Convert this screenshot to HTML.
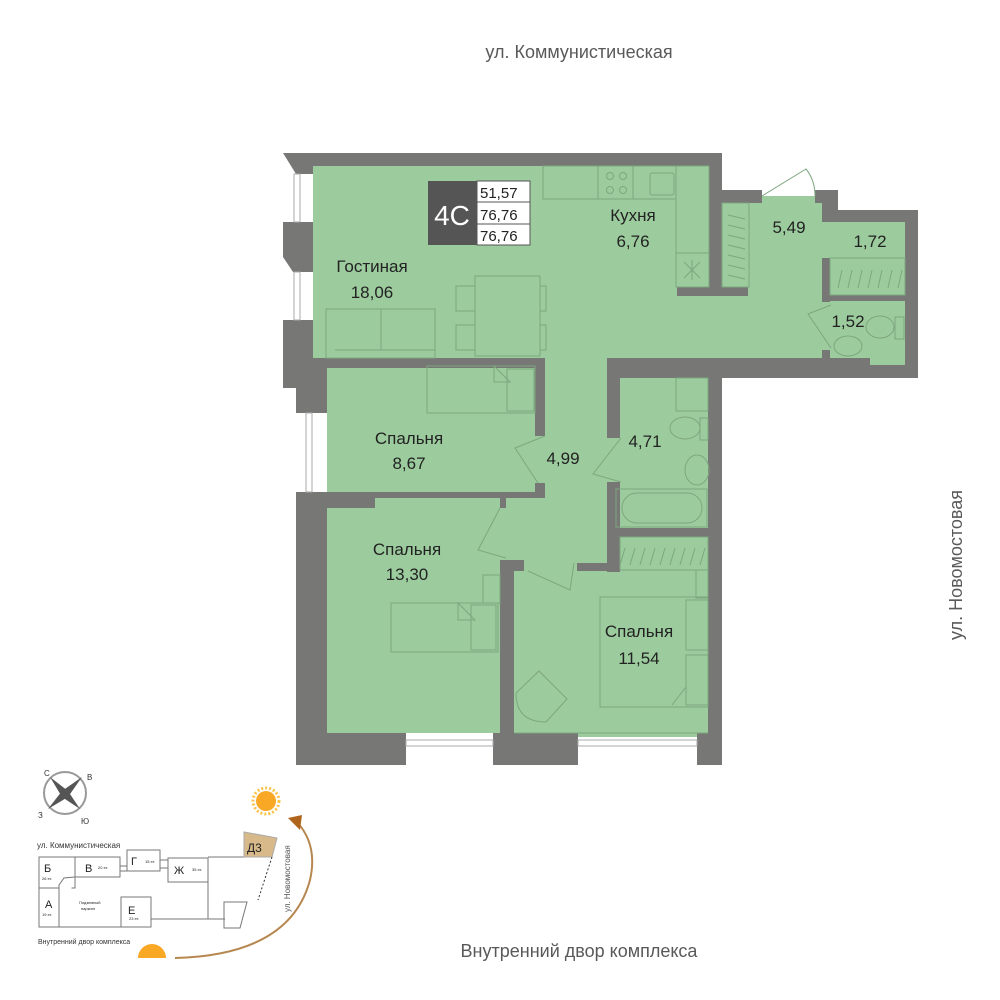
<!DOCTYPE html>
<html><head><meta charset="utf-8"><style>
body{margin:0;background:#fff;}
svg{display:block;font-family:"Liberation Sans",sans-serif;}
</style></head><body>
<svg width="1000" height="1000" viewBox="0 0 1000 1000" xmlns="http://www.w3.org/2000/svg">
<g fill="#595959" font-size="18">
<text x="579" y="58" text-anchor="middle">ул. Коммунистическая</text>
<text x="579" y="957" text-anchor="middle">Внутренний двор комплекса</text>
<text transform="translate(962,565) rotate(-90)" text-anchor="middle">ул. Новомостовая</text>
</g>
<!-- walls -->
<g fill="#777876">
<polygon points="283,153 722,153 722,190 709,190 709,166 313,166 313,174 296,174"/>
<polygon points="283,222 313,222 313,272 293,272 283,257"/>
<rect x="283" y="320" width="44" height="68"/>
<rect x="296" y="385" width="31" height="28"/>
<rect x="296" y="492" width="31" height="273"/>
<rect x="296" y="733" width="110" height="32"/>
<rect x="493" y="733" width="85" height="32"/>
<rect x="697" y="733" width="25" height="32"/>
<rect x="500" y="560" width="14" height="180"/>
<rect x="708" y="360" width="14" height="400"/>
<rect x="607" y="358" width="311" height="20"/>
<rect x="905" y="210" width="13" height="168"/>
<polygon points="815,190 838,190 838,210 918,210 918,223 838,223 838,222 822,222 822,203 815,203"/>
<rect x="709" y="190" width="53" height="13"/>
<rect x="709" y="190" width="13" height="100"/>
</g>
<!-- windows -->
<g fill="#fff" stroke="#aaa" stroke-width="1">
<rect x="294" y="174" width="6" height="48"/><rect x="294" y="272" width="6" height="48"/>
<rect x="306" y="413" width="6" height="79"/>
<rect x="406" y="740" width="87" height="6"/><rect x="578" y="740" width="119" height="6"/>
</g>
<!-- rooms -->
<g fill="#9ccc9d">
<rect x="313" y="166" width="396" height="192"/>
<rect x="709" y="290" width="13" height="68"/>
<rect x="722" y="203" width="100" height="155"/>
<rect x="762" y="196" width="53" height="8"/>
<rect x="822" y="222" width="83" height="36"/>
<rect x="830" y="258" width="75" height="37"/>
<rect x="822" y="301" width="83" height="57"/>
<rect x="870" y="358" width="35" height="7"/>
<rect x="327" y="368" width="218" height="124"/>
<rect x="545" y="358" width="75" height="205"/>
<rect x="500" y="498" width="107" height="65"/>
<rect x="327" y="508" width="173" height="225"/>
<rect x="375" y="498" width="125" height="10"/>
<rect x="620" y="378" width="88" height="150"/>
<rect x="620" y="537" width="88" height="34"/>
<rect x="514" y="571" width="194" height="162"/>
<rect x="524" y="563" width="53" height="8"/>
<rect x="578" y="733" width="119" height="4"/>
</g>
<g fill="#777876">
<rect x="677" y="287" width="71" height="9"/>
<rect x="822" y="258" width="8" height="44"/>
<rect x="822" y="295" width="83" height="6"/>
<rect x="822" y="350" width="8" height="10"/>
<rect x="313" y="358" width="232" height="10"/>
<rect x="535" y="358" width="10" height="78"/>
<rect x="535" y="483" width="10" height="15"/>
<rect x="327" y="492" width="218" height="6"/>
<rect x="327" y="498" width="48" height="10"/>
<rect x="500" y="498" width="6" height="10"/>
<rect x="607" y="358" width="13" height="80"/>
<rect x="607" y="482" width="13" height="90"/>
<rect x="620" y="528" width="88" height="9"/>
<rect x="577" y="563" width="43" height="8"/>
<rect x="500" y="560" width="24" height="11"/>
</g>
<!-- furniture lines -->
<g fill="none" stroke="#7ea67f" stroke-width="1">
<rect x="543" y="166" width="133" height="33"/><line x1="598" y1="166" x2="598" y2="199"/><line x1="633" y1="166" x2="633" y2="199"/>
<circle cx="610" cy="176" r="3.5"/><circle cx="623" cy="176" r="3.5"/><circle cx="610" cy="190" r="3.5"/><circle cx="623" cy="190" r="3.5"/>
<rect x="650" y="173" width="24" height="22" rx="2"/>
<rect x="676" y="166" width="33" height="121"/><line x1="676" y1="253" x2="709" y2="253"/>
<path d="M684 262 L700 278 M700 262 L684 278 M692 260 V280"/>
<rect x="475" y="276" width="65" height="80"/>
<rect x="456" y="286" width="19" height="25"/><rect x="456" y="325" width="19" height="25"/>
<rect x="540" y="286" width="6" height="25"/><rect x="540" y="325" width="6" height="25"/>
<rect x="326" y="309" width="109" height="49"/><line x1="381" y1="309" x2="381" y2="350"/><line x1="335" y1="350" x2="435" y2="350"/>
<rect x="427" y="366" width="108" height="47"/><path d="M494 366 L510 382 L494 382 Z"/><rect x="507" y="369" width="27" height="42"/>
<rect x="722" y="203" width="27" height="84"/><path d="M728 215 L745 219 M728 225 L745 229 M728 235 L745 239 M728 245 L745 249 M728 255 L745 259 M728 265 L745 269 M728 275 L745 279"/>
<rect x="830" y="258" width="75" height="37"/><path d="M838 288 L842 270 M848 288 L852 270 M858 288 L862 270 M868 288 L872 270 M878 288 L882 270 M888 288 L892 270 M898 288 L902 270"/>
<ellipse cx="880" cy="327" rx="14" ry="11"/><rect x="895" y="317" width="9" height="22"/>
<ellipse cx="848" cy="346" rx="14" ry="10"/>
<path d="M831 305 L808 314 L831 348"/>
<rect x="676" y="378" width="32" height="33"/>
<ellipse cx="685" cy="428" rx="15" ry="11"/><rect x="700" y="418" width="8" height="22"/>
<ellipse cx="697" cy="470" rx="12" ry="15"/>
<rect x="616" y="489" width="91" height="38"/><rect x="622" y="493" width="80" height="30" rx="15"/>
<path d="M621 438 L593 474 L621 482"/>
<path d="M545 436 L515 448 L538 483"/>
<rect x="620" y="537" width="88" height="33"/><path d="M620 565 L625 548 M630 565 L635 548 M640 565 L645 548 M650 565 L655 548 M660 565 L665 548 M670 565 L675 548 M680 565 L685 548 M690 565 L695 548 M700 565 L705 548"/>
<rect x="391" y="603" width="107" height="49"/><path d="M458 603 L475 620 L458 620 Z"/><rect x="471" y="605" width="25" height="45"/>
<rect x="483" y="575" width="17" height="28"/>
<path d="M500 508 L478 550 L506 558"/><path d="M528 571 L570 590 L574 563"/>
<rect x="600" y="597" width="108" height="110"/><rect x="686" y="600" width="22" height="50"/><rect x="686" y="655" width="22" height="50"/>
<path d="M686 687 L672 705"/><rect x="696" y="570" width="12" height="28"/>
<path d="M516 693 L539 671 L567 699 L546 722 Q516 722 516 693 Z"/>
<line x1="514" y1="733" x2="708" y2="733"/>
<path d="M762 196 L806 169 Q815 180 815 196"/>
</g>
<!-- labels -->
<g fill="#222" font-size="17" text-anchor="middle">
<text x="372" y="272">Гостиная</text><text x="372" y="298">18,06</text>
<text x="633" y="221">Кухня</text><text x="633" y="247">6,76</text>
<text x="789" y="233">5,49</text><text x="870" y="247">1,72</text><text x="848" y="327">1,52</text>
<text x="409" y="444">Спальня</text><text x="409" y="469">8,67</text>
<text x="563" y="464">4,99</text><text x="645" y="447">4,71</text>
<text x="407" y="555">Спальня</text><text x="407" y="580">13,30</text>
<text x="639" y="637">Спальня</text><text x="639" y="664">11,54</text>
</g>
<!-- legend -->
<rect x="428" y="181" width="49" height="64" fill="#555"/>
<text x="452" y="225" fill="#fff" font-size="28" text-anchor="middle">4C</text>
<rect x="477" y="181" width="53" height="64" fill="#fff" stroke="#555" stroke-width="1"/>
<line x1="477" y1="202" x2="530" y2="202" stroke="#555"/><line x1="477" y1="224" x2="530" y2="224" stroke="#555"/>
<g font-size="15" fill="#222"><text x="480" y="198">51,57</text><text x="480" y="220">76,76</text><text x="480" y="241">76,76</text></g>
<!-- site plan -->
<g>
<circle cx="65" cy="793" r="21" fill="none" stroke="#999" stroke-width="2"/>
<g fill="#555">
<polygon points="50,777 68,791 62,797"/><polygon points="82,777 68,797 62,791"/>
<polygon points="48,809 62,791 68,797"/><polygon points="80,809 62,797 68,791"/>
</g>
<g font-size="8" fill="#333"><text x="44" y="776">С</text><text x="87" y="780">В</text><text x="38" y="818">З</text><text x="81" y="824">Ю</text></g>
<text x="37" y="848" font-size="8" fill="#333">ул. Коммунистическая</text>
<g fill="#fff" stroke="#777" stroke-width="1">
<rect x="39" y="857" width="36" height="31"/><rect x="75" y="857" width="45" height="20"/>
<rect x="127" y="850" width="33" height="21"/><rect x="168" y="858" width="40" height="24"/>
<rect x="39" y="888" width="20" height="39"/><rect x="121" y="897" width="30" height="30"/>
<path d="M59 927 L59 885 L64 878 L75 877 M151 919 L225 919 M208 882 L208 919 M120 866 L127 866 M120 871 L127 871 M160 860 L168 860 M160 868 L168 868 M59 927 L121 927 M75 857 L120 857 M208 857 L244 857 M224 902 L247 902 L240 928 L224 928 Z"/>
</g>
<polygon points="244,832 277,838 272,857 244,857" fill="#d8b98a" stroke="#aaa"/>
<path d="M272 857 L258 900" stroke="#333" stroke-dasharray="2,2"/>
<g fill="#222"><text x="44" y="872" font-size="11">Б</text><text x="85" y="872" font-size="11">В</text><text x="131" y="865" font-size="11">Г</text><text x="174" y="874" font-size="11">Ж</text><text x="45" y="908" font-size="11">А</text><text x="128" y="914" font-size="11">Е</text><text x="247" y="852" font-size="12">Д3</text>
<g font-size="4"><text x="42" y="880">26 эт.</text><text x="98" y="869">20 эт.</text><text x="145" y="863">15 эт.</text><text x="192" y="871">35 эт.</text><text x="42" y="916">19 эт.</text><text x="129" y="920">23 эт.</text><text x="79" y="904">Подземный</text><text x="81" y="910">паркинг</text></g></g>
<text transform="translate(290,912) rotate(-90)" font-size="8" fill="#555">ул. Новомостовая</text>
<text x="38" y="944" font-size="7" fill="#333">Внутренний двор комплекса</text>
<path d="M175 958 Q290 955 310 880 Q318 845 297 822" fill="none" stroke="#b78750" stroke-width="2"/>
<polygon points="288,818 302,815 300,830" fill="#b0651c"/>
<circle cx="266" cy="801" r="10" fill="#f9a825"/><circle cx="266" cy="801" r="13" fill="none" stroke="#fcc34a" stroke-width="3" stroke-dasharray="2,2"/>
<path d="M138 958 A14 14 0 0 1 166 958 Z" fill="#f9a825"/>
</g>
</svg>
</body></html>
